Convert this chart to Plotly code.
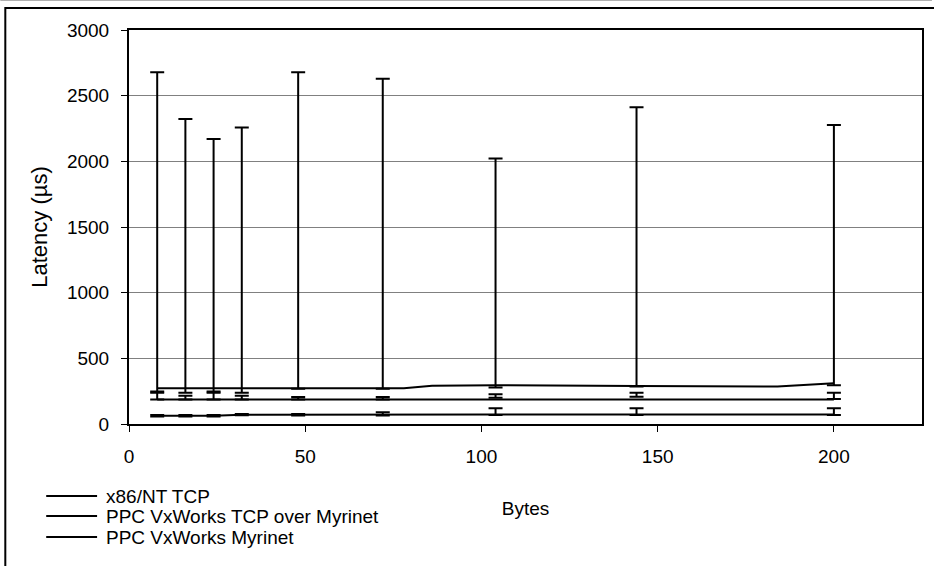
import plotly.graph_objects as go

# ---- data ----
bytes_err = [8, 16, 24, 32, 48, 72, 104, 144, 200]

x86_line_bytes = [8, 16, 24, 32, 48, 72, 78, 86, 104, 144, 184, 200]
x86_line = [272, 272, 272, 272, 272, 272, 273, 292, 296, 290, 286, 310]
x86_low = [248, 238, 248, 238, 268, 268, 278, 285, 295]
x86_high = [2679, 2323, 2170, 2257, 2679, 2628, 2021, 2412, 2277]

tcp_myr_line = [186, 186, 186, 186, 186, 186, 186, 186, 186]
tcp_myr_low = [186, 186, 186, 186, 186, 186, 200, 208, 190]
tcp_myr_high = [238, 216, 238, 216, 205, 205, 226, 238, 238]

myr_line = [62, 62, 62, 71, 72, 72, 72, 72, 72]
myr_low = [58, 58, 58, 66, 64, 64, 69, 69, 69]
myr_high = [68, 68, 68, 76, 76, 89, 120, 120, 120]

series_names = ["x86/NT TCP", "PPC VxWorks TCP over Myrinet", "PPC VxWorks Myrinet"]
y_ticks = [0, 500, 1000, 1500, 2000, 2500, 3000]
x_ticks = [0, 50, 100, 150, 200]

FONT = "Liberation Sans, Arial, sans-serif"
fig = go.Figure()

def add_series(name, xs, ys, ex, lows, highs):
    fig.add_trace(go.Scatter(x=xs, y=ys, mode="lines", name=name,
                             line=dict(color="black", width=2), showlegend=False))
    mids = [(a + b) / 2 for a, b in zip(lows, highs)]
    half = [(b - a) / 2 for a, b in zip(lows, highs)]
    fig.add_trace(go.Scatter(x=ex, y=mids, mode="markers", name=name + " range",
                             marker=dict(size=1, color="rgba(0,0,0,0)"),
                             error_y=dict(type="data", array=half, symmetric=True,
                                          color="black", thickness=2, width=7),
                             showlegend=False, hoverinfo="skip"))

add_series(series_names[0], x86_line_bytes, x86_line, bytes_err, x86_low, x86_high)
add_series(series_names[1], bytes_err, tcp_myr_line, bytes_err, tcp_myr_low, tcp_myr_high)
add_series(series_names[2], bytes_err, myr_line, bytes_err, myr_low, myr_high)

# plot area in pixels: x 129..924, y 30..424
L, R, T, B = 129, 924, 30, 424
W, H = R - L, B - T
def px(x):
    return (x - L) / W
def py(y):
    return (B - y) / H

shapes = []
# chart area border
shapes.append(dict(type="rect", xref="paper", yref="paper",
                   x0=px(5), x1=px(940), y0=py(575), y1=py(8),
                   line=dict(color="black", width=2)))
shapes.append(dict(type="line", xref="paper", yref="paper",
                   x0=px(0), x1=px(934), y0=py(0.5), y1=py(0.5),
                   line=dict(color="#b0b0b0", width=1)))
# custom legend
annotations = []
legend_rows = [496, 516, 537]
for name, yrow in zip(series_names, legend_rows):
    shapes.append(dict(type="line", xref="paper", yref="paper",
                       x0=px(46), x1=px(97), y0=py(yrow), y1=py(yrow),
                       line=dict(color="black", width=2)))
    annotations.append(dict(text=name, xref="paper", yref="paper",
                            x=px(104), y=py(yrow), xanchor="left", yanchor="middle",
                            showarrow=False, font=dict(family=FONT, size=19, color="black")))

fig.update_layout(
    width=934, height=566,
    margin=dict(l=L, r=934 - R, t=T, b=566 - B),
    paper_bgcolor="white", plot_bgcolor="white",
    font=dict(family=FONT, size=19, color="black"),
    showlegend=False,
    shapes=shapes,
    annotations=annotations,
    xaxis=dict(range=[0, 225], tickvals=x_ticks, ticks="outside", ticklen=6,
               tickwidth=1, tickcolor="black", showgrid=False, zeroline=False,
               showline=True, linecolor="black", linewidth=2, mirror=True,
               tickfont=dict(family=FONT, size=19, color="black"),
               title=dict(text="Bytes", standoff=36,
                          font=dict(family=FONT, size=19, color="black")),
               ticklabelstandoff=8),
    yaxis=dict(range=[0, 3000], tickvals=y_ticks, ticks="outside", ticklen=6,
               tickwidth=1, tickcolor="black", showgrid=True, gridcolor="#808080",
               gridwidth=1, zeroline=False,
               showline=True, linecolor="black", linewidth=2, mirror=True,
               tickfont=dict(family=FONT, size=19, color="black"),
               title=dict(text="Latency (µs)", standoff=13,
                          font=dict(family=FONT, size=22, color="black")),
               ticklabelstandoff=8),
)

fig.write_html("out.html")
